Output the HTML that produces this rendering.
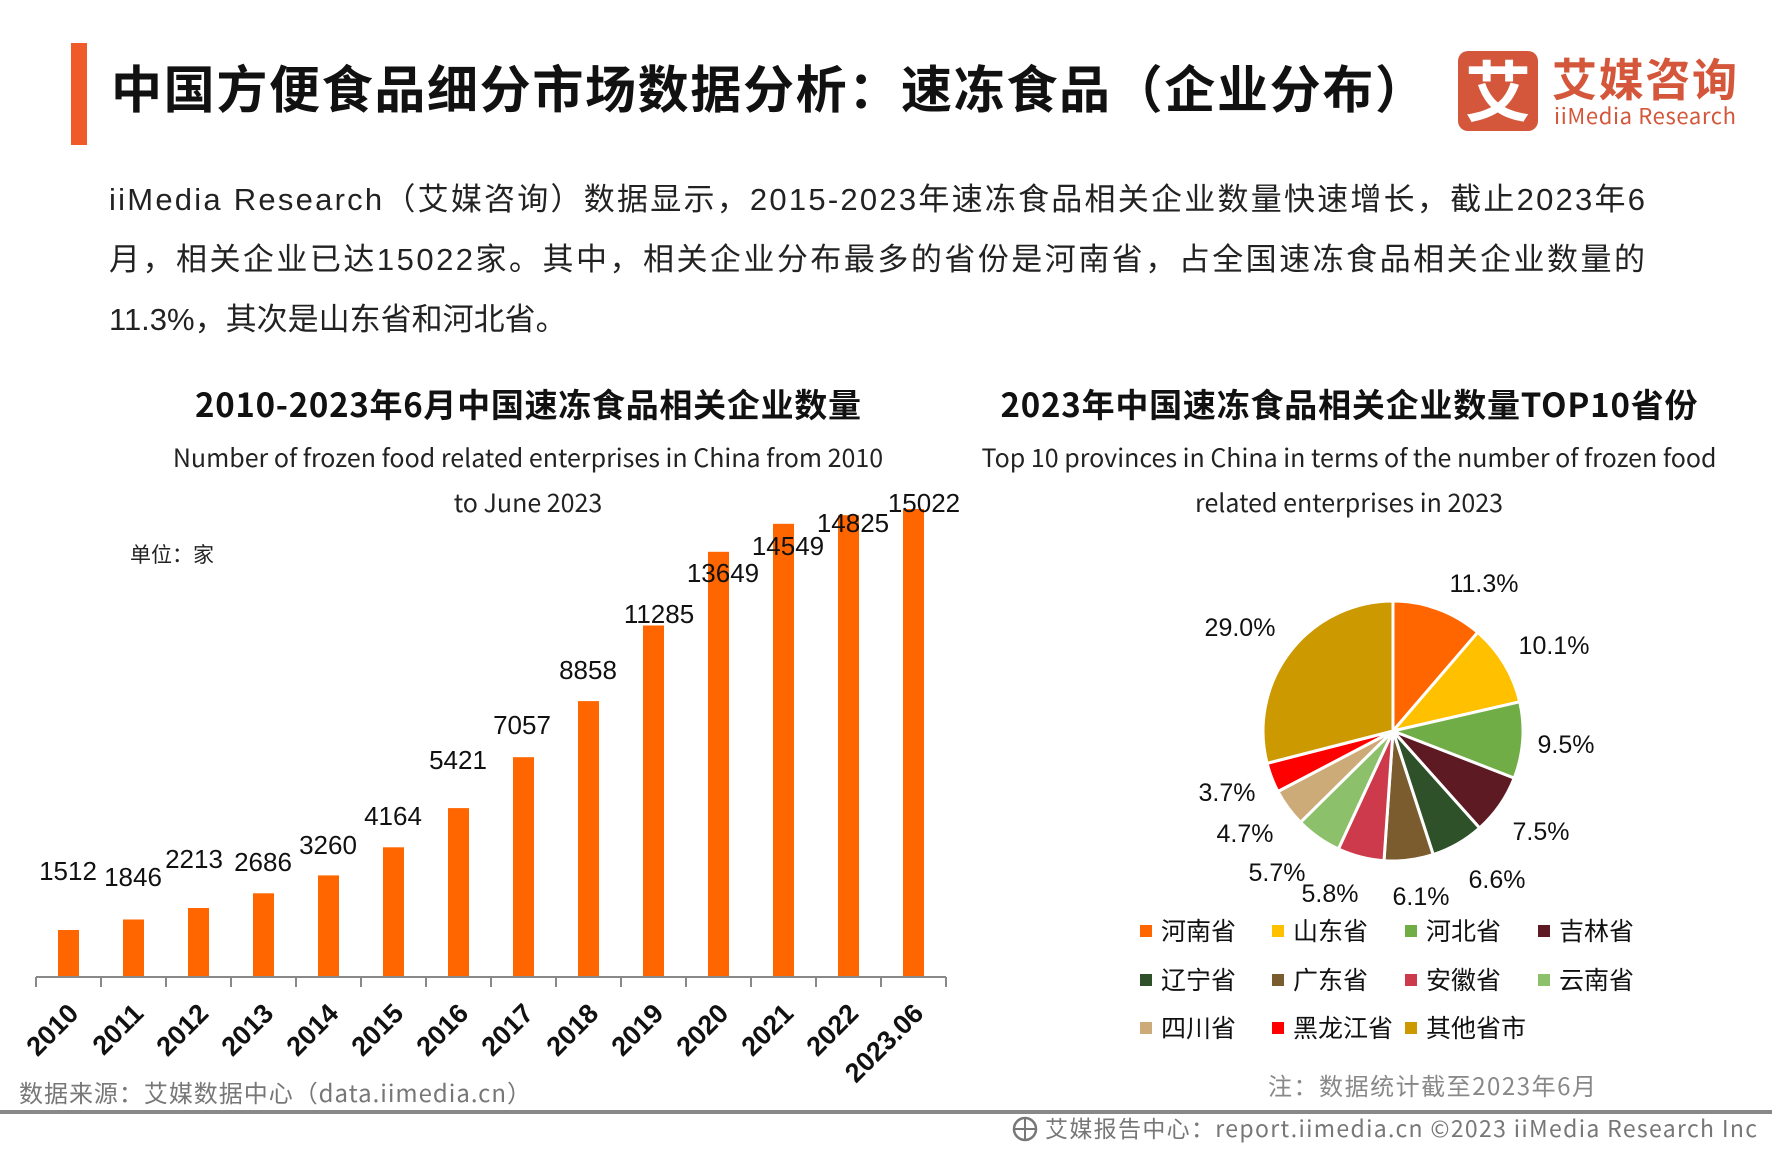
<!DOCTYPE html>
<html><head><meta charset="utf-8"><style>
html,body{margin:0;padding:0;background:#fff;}
svg{display:block;}
text{font-family:"Liberation Sans","Noto Sans CJK SC",sans-serif;}
.c{font-family:"Noto Sans CJK SC","Liberation Sans",sans-serif;}
</style></head><body>
<svg width="1772" height="1152" viewBox="0 0 1772 1152" xmlns="http://www.w3.org/2000/svg">
<rect x="71" y="43" width="16" height="102" fill="#f05a28"/>
<text x="111" y="108" font-size="51" font-weight="bold" fill="#111" class="c" textLength="1315">中国方便食品细分市场数据分析：速冻食品（企业分布）</text>
<!-- logo -->
<rect x="1458" y="51" width="80" height="80" rx="10" fill="#d4573b"/>
<text x="1498" y="116" font-size="66" font-weight="bold" fill="#fff" text-anchor="middle" class="c">艾</text>
<text x="1552" y="96" font-size="45" font-weight="bold" fill="#d4573b" class="c" textLength="185">艾媒咨询</text>
<text x="1554" y="124" font-size="22" fill="#d4573b" class="c" textLength="182">iiMedia Research</text>
<!-- paragraph -->
<g font-size="31" fill="#222" class="c">
<text x="109" y="210" textLength="1536">iiMedia Research（艾媒咨询）数据显示，2015-2023年速冻食品相关企业数量快速增长，截止2023年6</text>
<text x="109" y="270" textLength="1536">月，相关企业已达15022家。其中，相关企业分布最多的省份是河南省，占全国速冻食品相关企业数量的</text>
<text x="109" y="330">11.3%，其次是山东省和河北省。</text>
</g>
<!-- left chart titles -->
<text x="528" y="417" font-size="33" font-weight="bold" fill="#111" text-anchor="middle" class="c" textLength="666">2010-2023年6月中国速冻食品相关企业数量</text>
<text x="528" y="467" font-size="25" fill="#222" text-anchor="middle" class="c">Number of frozen food related enterprises in China from 2010</text>
<text x="528" y="512" font-size="25" fill="#222" text-anchor="middle" class="c">to June 2023</text>
<text x="130" y="562" font-size="21" fill="#222" class="c">单位：家</text>
<!-- bars -->
<g fill="#ff6600">
<rect x="58" y="930" width="21" height="47"/>
<rect x="123" y="919.5" width="21" height="57.5"/>
<rect x="188" y="908" width="21" height="69"/>
<rect x="253" y="893.3" width="21" height="83.7"/>
<rect x="318" y="875.4" width="21" height="101.6"/>
<rect x="383" y="847.3" width="21" height="129.7"/>
<rect x="448" y="808.1" width="21" height="168.9"/>
<rect x="513" y="757.2" width="21" height="219.8"/>
<rect x="578" y="701.1" width="21" height="275.9"/>
<rect x="643" y="625.5" width="21" height="351.5"/>
<rect x="708" y="551.8" width="21" height="425.2"/>
<rect x="773" y="523.8" width="21" height="453.2"/>
<rect x="838" y="515.2" width="21" height="461.8"/>
<rect x="903" y="509" width="21" height="468"/>
</g>
<g stroke="#888" stroke-width="2">
<line x1="36" y1="977" x2="946" y2="977"/>
<line x1="36" y1="977" x2="36" y2="987"/><line x1="101" y1="977" x2="101" y2="987"/><line x1="166" y1="977" x2="166" y2="987"/><line x1="231" y1="977" x2="231" y2="987"/><line x1="296" y1="977" x2="296" y2="987"/><line x1="361" y1="977" x2="361" y2="987"/><line x1="426" y1="977" x2="426" y2="987"/><line x1="491" y1="977" x2="491" y2="987"/><line x1="556" y1="977" x2="556" y2="987"/><line x1="621" y1="977" x2="621" y2="987"/><line x1="686" y1="977" x2="686" y2="987"/><line x1="751" y1="977" x2="751" y2="987"/><line x1="816" y1="977" x2="816" y2="987"/><line x1="881" y1="977" x2="881" y2="987"/><line x1="946" y1="977" x2="946" y2="987"/>
</g>
<g font-size="26" fill="#111" text-anchor="middle" class="c">
<text x="68" y="880">1512</text><text x="133" y="886">1846</text><text x="194" y="868">2213</text><text x="263" y="871">2686</text>
<text x="328" y="854">3260</text><text x="393" y="825">4164</text><text x="458" y="769">5421</text><text x="522" y="734">7057</text>
<text x="588" y="679">8858</text><text x="659" y="623">11285</text><text x="723" y="582">13649</text><text x="788" y="555">14549</text>
<text x="853" y="532">14825</text><text x="924" y="512">15022</text>
</g>
<g font-size="27" font-weight="bold" fill="#111" text-anchor="end" class="c">
<text transform="translate(80,1015) rotate(-45)">2010</text>
<text transform="translate(145,1015) rotate(-45)">2011</text>
<text transform="translate(210,1015) rotate(-45)">2012</text>
<text transform="translate(275,1015) rotate(-45)">2013</text>
<text transform="translate(340,1015) rotate(-45)">2014</text>
<text transform="translate(405,1015) rotate(-45)">2015</text>
<text transform="translate(470,1015) rotate(-45)">2016</text>
<text transform="translate(535,1015) rotate(-45)">2017</text>
<text transform="translate(600,1015) rotate(-45)">2018</text>
<text transform="translate(665,1015) rotate(-45)">2019</text>
<text transform="translate(730,1015) rotate(-45)">2020</text>
<text transform="translate(795,1015) rotate(-45)">2021</text>
<text transform="translate(860,1015) rotate(-45)">2022</text>
<text transform="translate(925,1015) rotate(-45)">2023.06</text>
</g>
<text x="19" y="1102" font-size="24" fill="#777" class="c" textLength="512">数据来源：艾媒数据中心（data.iimedia.cn）</text>
<!-- right chart -->
<text x="1349" y="417" font-size="33" font-weight="bold" fill="#111" text-anchor="middle" class="c" textLength="697">2023年中国速冻食品相关企业数量TOP10省份</text>
<text x="1349" y="467" font-size="25" fill="#222" text-anchor="middle" class="c">Top 10 provinces in China in terms of the number of frozen food</text>
<text x="1349" y="512" font-size="25" fill="#222" text-anchor="middle" class="c">related enterprises in 2023</text>
<g stroke="#fff" stroke-width="3" stroke-linejoin="round">
<path d="M1393,731 L1393,601 A130,130 0 0 1 1477.7,632.4 Z" fill="#ff6600"/>
<path d="M1393,731 L1477.7,632.4 A130,130 0 0 1 1519.7,701.8 Z" fill="#ffc000"/>
<path d="M1393,731 L1519.7,701.8 A130,130 0 0 1 1514.2,778.1 Z" fill="#70ad47"/>
<path d="M1393,731 L1514.2,778.1 A130,130 0 0 1 1479.6,828.0 Z" fill="#5e1a23"/>
<path d="M1393,731 L1479.6,828.0 A130,130 0 0 1 1433.2,854.6 Z" fill="#2f5129"/>
<path d="M1393,731 L1433.2,854.6 A130,130 0 0 1 1384.0,860.7 Z" fill="#7b5c2e"/>
<path d="M1393,731 L1384.0,860.7 A130,130 0 0 1 1338.4,849.0 Z" fill="#cc3a4b"/>
<path d="M1393,731 L1338.4,849.0 A130,130 0 0 1 1300.5,822.3 Z" fill="#8dc06a"/>
<path d="M1393,731 L1300.5,822.3 A130,130 0 0 1 1277.9,791.5 Z" fill="#cdab79"/>
<path d="M1393,731 L1277.9,791.5 A130,130 0 0 1 1267.1,763.3 Z" fill="#ff0000"/>
<path d="M1393,731 L1267.1,763.3 A130,130 0 0 1 1393,601 Z" fill="#cc9900"/>
</g>
<g font-size="25" fill="#111" text-anchor="middle" class="c">
<text x="1484" y="592">11.3%</text><text x="1554" y="654">10.1%</text><text x="1566" y="753">9.5%</text>
<text x="1541" y="840">7.5%</text><text x="1497" y="888">6.6%</text><text x="1421" y="905">6.1%</text>
<text x="1330" y="902">5.8%</text><text x="1277" y="881">5.7%</text><text x="1245" y="842">4.7%</text>
<text x="1227" y="801">3.7%</text><text x="1240" y="636">29.0%</text>
</g>
<g font-size="25" fill="#111" class="c">
<rect x="1140" y="925" width="12" height="12" fill="#ff6600"/><text x="1161" y="940">河南省</text>
<rect x="1272" y="925" width="12" height="12" fill="#ffc000"/><text x="1293" y="940">山东省</text>
<rect x="1405" y="925" width="12" height="12" fill="#70ad47"/><text x="1426" y="940">河北省</text>
<rect x="1538" y="925" width="12" height="12" fill="#5e1a23"/><text x="1559" y="940">吉林省</text>
<rect x="1140" y="974" width="12" height="12" fill="#2f5129"/><text x="1161" y="989">辽宁省</text>
<rect x="1272" y="974" width="12" height="12" fill="#7b5c2e"/><text x="1293" y="989">广东省</text>
<rect x="1405" y="974" width="12" height="12" fill="#cc3a4b"/><text x="1426" y="989">安徽省</text>
<rect x="1538" y="974" width="12" height="12" fill="#8dc06a"/><text x="1559" y="989">云南省</text>
<rect x="1140" y="1022" width="12" height="12" fill="#cdab79"/><text x="1161" y="1037">四川省</text>
<rect x="1272" y="1022" width="12" height="12" fill="#ff0000"/><text x="1293" y="1037">黑龙江省</text>
<rect x="1405" y="1022" width="12" height="12" fill="#cc9900"/><text x="1426" y="1037">其他省市</text>
</g>
<text x="1268" y="1095" font-size="24" fill="#888" class="c" textLength="328">注：数据统计截至2023年6月</text>
<!-- footer -->
<rect x="0" y="1110" width="1772" height="4" fill="#888"/>
<circle cx="1025" cy="1129" r="11" fill="none" stroke="#777" stroke-width="2.5"/>
<path d="M1014,1129 H1036 M1025,1118 V1140" stroke="#777" stroke-width="2"/>
<text x="1045" y="1137" font-size="23" fill="#777" class="c" textLength="712">艾媒报告中心：report.iimedia.cn   ©2023   iiMedia Research   Inc</text>
</svg>
</body></html>
